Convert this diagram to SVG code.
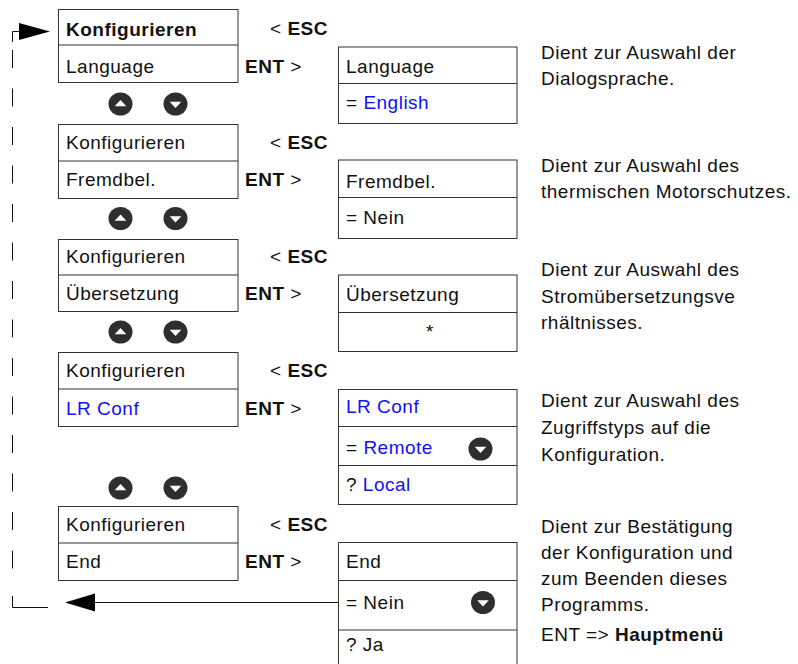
<svg xmlns="http://www.w3.org/2000/svg" xmlns:xlink="http://www.w3.org/1999/xlink" width="798" height="664" viewBox="0 0 798 664">
<defs>
<style>
text { font-family: "Liberation Sans", Arial, Helvetica, sans-serif; font-size: 19px; letter-spacing: 0.5px; fill: #111; }
.b { font-weight: bold; }
.blue { fill: #1010ff; }
.box { fill: #fff; stroke: #333; stroke-width: 1; }
.div { stroke: #333; stroke-width: 1; fill: none; }
.icon { fill: #2e2e2e; }
.line { stroke: #111; stroke-width: 1; fill: none; }
.dash { stroke: #111; stroke-width: 1; fill: none; stroke-dasharray: 18 20.5; }
.head { fill: #000; }
</style>
<g id="icoUp"><ellipse cx="0" cy="0" rx="12" ry="11.5" class="icon"/><path d="M-5.8 2.2 L5.8 2.2 L0 -4 Z" fill="#fff"/></g>
<g id="icoDn"><ellipse cx="0" cy="0" rx="12" ry="11.5" class="icon"/><path d="M-5.8 -2.2 L5.8 -2.2 L0 4 Z" fill="#fff"/></g>
</defs>
<rect width="798" height="664" fill="#fff"/>

<g id="connectors">
  <path class="line" d="M19 31.5 H12.5 V42"/>
  <path class="dash" d="M12.5 50 V570"/>
  <path class="line" d="M12.5 596 V607.5 H48"/>
  <polygon class="head" points="19,23 50,31.5 19,40"/>
  <line class="line" x1="95" y1="602.5" x2="338.5" y2="602.5"/>
  <polygon class="head" points="65,602.5 95,593.5 95,611.5"/>
</g>

<g id="menu-language">
  <rect class="box" x="58.5" y="9.5" width="179.5" height="73"/>
  <line class="div" x1="58.5" y1="45" x2="238" y2="45"/>
  <text x="66" y="35.5" class="b">Konfigurieren</text>
  <text x="66" y="72.5">Language</text>
  <text x="270" y="35">&lt; <tspan class="b">ESC</tspan></text>
  <text x="245" y="72.5"><tspan class="b">ENT</tspan> &gt;</text>
</g>
<g id="nav1">
  <use xlink:href="#icoUp" x="120.5" y="104"/>
  <use xlink:href="#icoDn" x="175.5" y="104"/>
</g>
<g id="param-language">
  <rect class="box" x="338.5" y="47" width="178.5" height="76.5"/>
  <line class="div" x1="338.5" y1="83.5" x2="517" y2="83.5"/>
  <text x="346" y="72.5">Language</text>
  <text x="346" y="109">= <tspan class="blue">English</tspan></text>
</g>
<g id="desc-language">
  <text x="541" y="58.5">Dient zur Auswahl der</text>
  <text x="541" y="85">Dialogsprache.</text>
</g>

<g id="menu-fremdbel">
  <rect class="box" x="58.5" y="124.5" width="179.5" height="74"/>
  <line class="div" x1="58.5" y1="161" x2="238" y2="161"/>
  <text x="66" y="148.5">Konfigurieren</text>
  <text x="66" y="186">Fremdbel.</text>
  <text x="270" y="148.5">&lt; <tspan class="b">ESC</tspan></text>
  <text x="245" y="186"><tspan class="b">ENT</tspan> &gt;</text>
</g>
<g id="nav2">
  <use xlink:href="#icoUp" x="120.5" y="218.5"/>
  <use xlink:href="#icoDn" x="175.5" y="218.5"/>
</g>
<g id="param-fremdbel">
  <rect class="box" x="338.5" y="160" width="178.5" height="78.5"/>
  <line class="div" x1="338.5" y1="197.5" x2="517" y2="197.5"/>
  <text x="346" y="187.5">Fremdbel.</text>
  <text x="346" y="223.5">= Nein</text>
</g>
<g id="desc-fremdbel">
  <text x="541" y="172">Dient zur Auswahl des</text>
  <text x="541" y="198">thermischen Motorschutzes.</text>
</g>

<g id="menu-uebersetzung">
  <rect class="box" x="58.5" y="239.5" width="179.5" height="72"/>
  <line class="div" x1="58.5" y1="275" x2="238" y2="275"/>
  <text x="66" y="263">Konfigurieren</text>
  <text x="66" y="300">Übersetzung</text>
  <text x="270" y="263">&lt; <tspan class="b">ESC</tspan></text>
  <text x="245" y="300"><tspan class="b">ENT</tspan> &gt;</text>
</g>
<g id="nav3">
  <use xlink:href="#icoUp" x="120.5" y="332"/>
  <use xlink:href="#icoDn" x="175.5" y="332"/>
</g>
<g id="param-uebersetzung">
  <rect class="box" x="338.5" y="275" width="178.5" height="76.5"/>
  <line class="div" x1="338.5" y1="312.5" x2="517" y2="312.5"/>
  <text x="346" y="301">Übersetzung</text>
  <text x="430" y="338" text-anchor="middle">*</text>
</g>
<g id="desc-uebersetzung">
  <text x="541" y="276">Dient zur Auswahl des</text>
  <text x="541" y="302.5">Stromübersetzungsve</text>
  <text x="541" y="329">rhältnisses.</text>
</g>

<g id="menu-lrconf">
  <rect class="box" x="58.5" y="352.5" width="179.5" height="74"/>
  <line class="div" x1="58.5" y1="389" x2="238" y2="389"/>
  <text x="66" y="377">Konfigurieren</text>
  <text x="66" y="414.5" class="blue">LR Conf</text>
  <text x="270" y="377">&lt; <tspan class="b">ESC</tspan></text>
  <text x="245" y="414.5"><tspan class="b">ENT</tspan> &gt;</text>
</g>
<g id="nav4">
  <use xlink:href="#icoUp" x="120.5" y="488"/>
  <use xlink:href="#icoDn" x="175.5" y="488"/>
</g>
<g id="param-lrconf">
  <rect class="box" x="338.5" y="389.5" width="178.5" height="115"/>
  <line class="div" x1="338.5" y1="426.5" x2="517" y2="426.5"/>
  <line class="div" x1="338.5" y1="465.5" x2="517" y2="465.5" stroke="#777"/>
  <text x="346" y="413" class="blue">LR Conf</text>
  <text x="346" y="453.5">= <tspan class="blue">Remote</tspan></text>
  <use xlink:href="#icoDn" x="480.5" y="449"/>
  <text x="346" y="491">? <tspan class="blue">Local</tspan></text>
</g>
<g id="desc-lrconf">
  <text x="541" y="407">Dient zur Auswahl des</text>
  <text x="541" y="434">Zugriffstyps auf die</text>
  <text x="541" y="461">Konfiguration.</text>
</g>

<g id="menu-end">
  <rect class="box" x="58.5" y="506.5" width="179.5" height="74"/>
  <line class="div" x1="58.5" y1="543" x2="238" y2="543"/>
  <text x="66" y="531">Konfigurieren</text>
  <text x="66" y="568">End</text>
  <text x="270" y="531">&lt; <tspan class="b">ESC</tspan></text>
  <text x="245" y="568"><tspan class="b">ENT</tspan> &gt;</text>
</g>
<g id="param-end">
  <rect class="box" x="338.5" y="542.5" width="178.5" height="130"/>
  <line class="div" x1="338.5" y1="580.5" x2="517" y2="580.5"/>
  <line class="div" x1="338.5" y1="630" x2="517" y2="630"/>
  <text x="346" y="568">End</text>
  <text x="346" y="609">= Nein</text>
  <use xlink:href="#icoDn" x="483" y="602.5"/>
  <text x="346" y="650.5">? Ja</text>
</g>
<g id="desc-end">
  <text x="541" y="532.5">Dient zur Bestätigung</text>
  <text x="541" y="558.5">der Konfiguration und</text>
  <text x="541" y="584.5">zum Beenden dieses</text>
  <text x="541" y="610.5">Programms.</text>
  <text x="541" y="640.5">ENT =&gt; <tspan class="b">Hauptmenü</tspan></text>
</g>
</svg>
